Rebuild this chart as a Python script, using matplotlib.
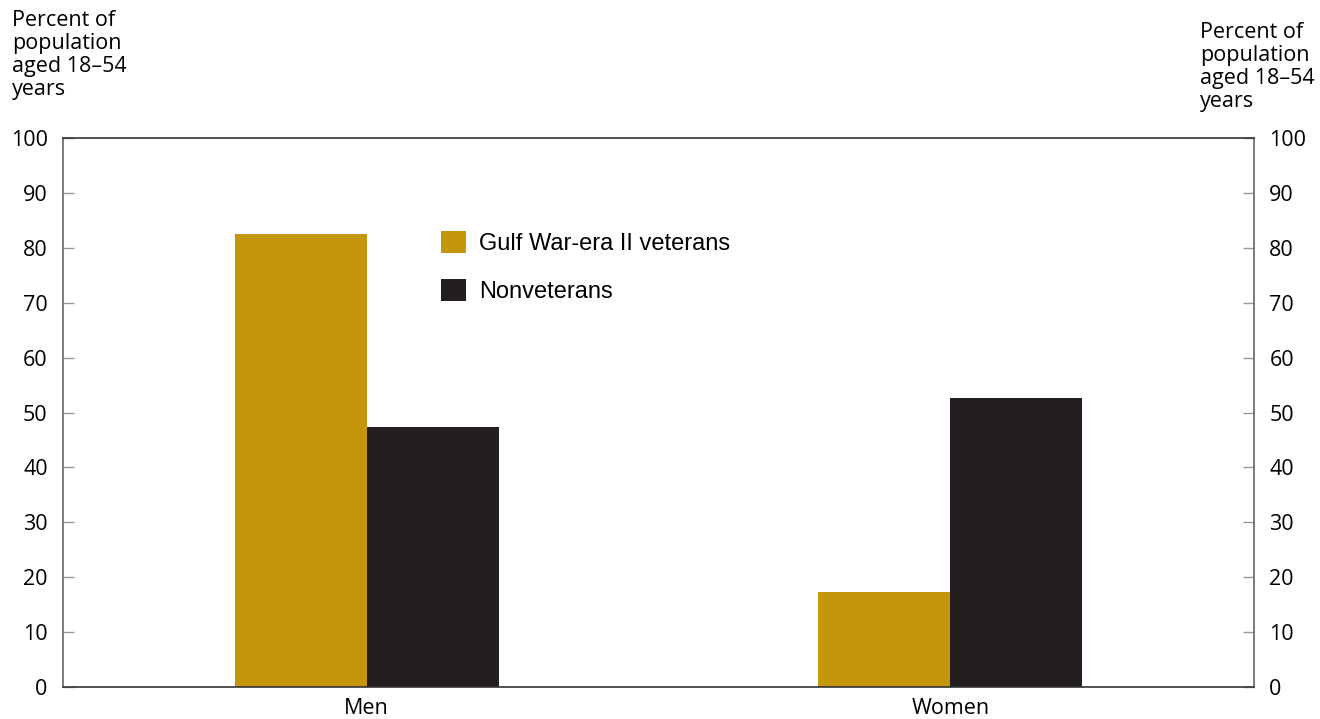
import matplotlib.pyplot as plt
import numpy as np

plt.rcParams['font.family'] = ['Open Sans', 'DejaVu Sans']

categories = ['Men', 'Women']
series_names = ['Gulf War-era II veterans', 'Nonveterans']
veterans = [82.5, 17.3]
nonveterans = [47.4, 52.6]
yticks = [0, 10, 20, 30, 40, 50, 60, 70, 80, 90, 100]
ylabel_text = 'Percent of\npopulation\naged 18\u201354\nyears'

gold = '#c4960a'
black = '#231f20'

fig = plt.figure(figsize=(13.2, 7.19), dpi=100)
ax = fig.add_axes([0.0477, 0.0445, 0.9023, 0.7635])

x = np.arange(len(categories))
w = 0.226
ax.bar(x - w / 2, veterans, width=w, color=gold, label=series_names[0], zorder=2)
ax.bar(x + w / 2, nonveterans, width=w, color=black, label=series_names[1], zorder=2)

ax.set_xlim(-0.52, 1.52)
ax.set_ylim(0, 100)
ax.set_xticks(x)
ax.set_xticklabels(categories, fontsize=15.5)
ax.tick_params(axis='x', length=0, pad=8)

ax.set_yticks(yticks)
ax.tick_params(axis='y', direction='in', length=8, width=1, color='#999999',
               labelsize=15.5, pad=11, left=True, right=True,
               labelleft=True, labelright=True)

for side in ['left', 'right']:
    ax.spines[side].set_color('#666666')
    ax.spines[side].set_linewidth(1.2)
for side in ['top', 'bottom']:
    ax.spines[side].set_color('#333333')
    ax.spines[side].set_linewidth(1.2)

fig.text(12 / 1320, 1 - 10 / 719, ylabel_text, fontsize=15.5, va='top', ha='left',
         linespacing=1.12)
fig.text(1200 / 1320, 1 - 22 / 719, ylabel_text, fontsize=15.5, va='top', ha='left',
         linespacing=1.12)

leg = ax.legend(loc='upper left', bbox_to_anchor=((441 - 63) / 1191, (687 - 231) / 549),
                frameon=False, prop={'family': 'Liberation Sans', 'size': 17},
                handlelength=1.05, handleheight=1.05, handletextpad=0.58,
                labelspacing=1.02, borderpad=0, borderaxespad=0)

fig.savefig('out.png', dpi=100)
